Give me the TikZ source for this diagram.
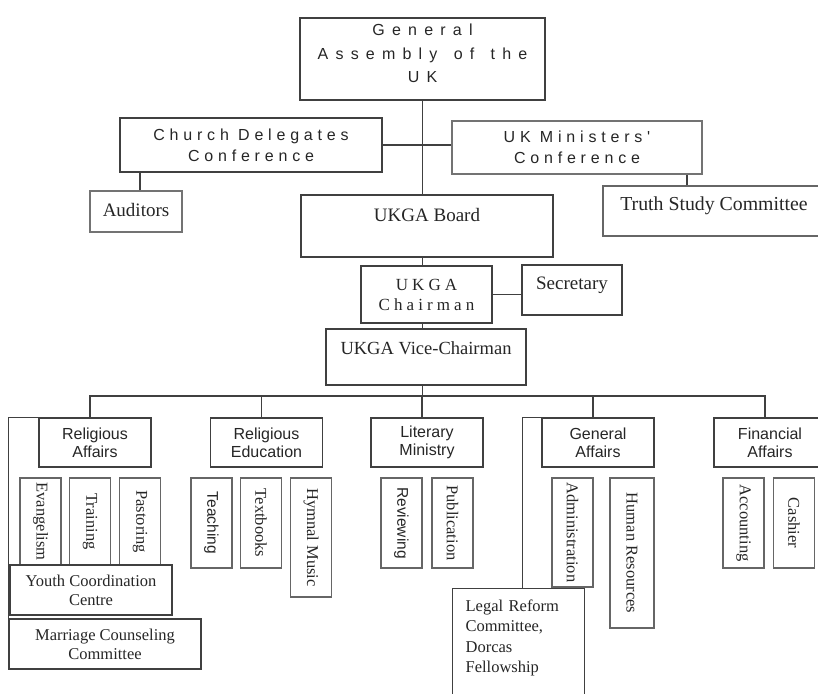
\documentclass[tikz,border=0pt]{standalone}
\usepackage{fontspec}
\setmainfont{Liberation Serif}
\setsansfont{Liberation Sans}
\newfontfamily\widesans[LetterSpace=45]{Liberation Sans}
\newfontfamily\spacedsans[LetterSpace=30]{Liberation Sans}
\newfontfamily\spacedserif[LetterSpace=24]{Liberation Serif}

\begin{document}
\begin{tikzpicture}[x=1pt,y=-1pt,
  box/.style={draw=black!75, line width=1.2pt, fill=white, inner sep=0pt, align=center, text=black!85},
  topbox/.style={box, font=\spacedsans\fontsize{16}{21}\selectfont},
  serbox/.style={box, font=\fontsize{19}{22}\selectfont, text height=13},
  headbox/.style={box, minimum width=112, minimum height=49, font=\sffamily\fontsize{16}{18}\selectfont},
  subbox/.style={box, draw=black!60, rotate=-90, minimum height=41, font=\fontsize{16.5}{19}\selectfont},
  lowbox/.style={box, minimum height=50, font=\fontsize{16.5}{19}\selectfont},
  link/.style={draw=black!75, line width=1.2pt}]
\useasboundingbox (0,0) rectangle (818,693);
\coordinate (bus) at (0,396);

\node[box, anchor=north, text width=245, text height=18, text depth=64, line width=1.6pt, font=\widesans\fontsize{16}{23.5}\selectfont] (ga) at (422.5,17) {General\\Assembly{} \hspace{11pt}of{} \hspace{11pt}the\\UK};
\node[topbox, minimum width=262, minimum height=54] (cdc) at (251,145) {Church Delegates\\Conference};
\node[topbox, draw=black!55, minimum width=250, minimum height=53] (ukm) at (577,147.5) {UK Ministers'\\Conference};
\node[serbox, draw=black!55, minimum width=92, minimum height=41, text depth=3] (aud) at (136,211.5) {Auditors};
\node[serbox, minimum width=252, minimum height=62, text depth=22] (board) at (427,226) {UKGA Board};
\node[serbox, draw=black!60, minimum width=222, minimum height=50, text depth=15, font=\fontsize{19.8}{22}\selectfont] (tsc) at (714,211) {Truth Study Committee};
\node[box, minimum width=131, minimum height=57, font=\spacedserif\fontsize{17}{20}\selectfont] (chair) at (426.5,294.5) {UKGA\\Chairman};
\node[serbox, minimum width=100, minimum height=50, text depth=14] (sec) at (572,290) {Secretary};
\node[serbox, minimum width=200, minimum height=56, text depth=18, font=\fontsize{18.5}{22}\selectfont] (vice) at (426,357) {UKGA Vice-Chairman};

\node[headbox] (ra) at (95,442.5) {Religious\\Affairs};
\node[headbox] (re) at (266.5,442.5) {Religious\\Education};
\node[headbox] (lm) at (427,442.5) {Literary\\Ministry};
\node[headbox] (gen) at (598,442.5) {General\\Affairs};
\node[headbox] (fa) at (770,442.5) {Financial\\Affairs};

\node[box, anchor=north west, text width=106, inner xsep=13, text height=23, text depth=120, align=left, font=\fontsize{16.5}{20.3}\selectfont] (legal) at (452,588) {Legal Reform\\Committee,\\Dorcas\\Fellowship};

\node[subbox, minimum width=87] (evan) at (40.5,521.5) {Evangelism};
\node[subbox, minimum width=87] (train) at (90,521.5) {Training};
\node[subbox, minimum width=87] (pastor) at (140,521.5) {Pastoring};
\node[subbox, minimum width=90, font=\sffamily\fontsize{15.5}{18}\selectfont] (teach) at (211.5,523) {Teaching};
\node[subbox, minimum width=90] (textb) at (261,523) {Textbooks};
\node[subbox, minimum width=119] (hymn) at (311,537.5) {Hymnal Music};
\node[subbox, minimum width=90, font=\sffamily\fontsize{15.5}{18}\selectfont] (review) at (401.5,523) {Reviewing};
\node[subbox, minimum width=90] (publ) at (452.5,523) {Publication};
\node[subbox, minimum width=109] (admin) at (572.5,532.5) {Administration};
\node[subbox, minimum width=150, minimum height=44] (hr) at (632,553) {Human Resources};
\node[subbox, minimum width=90] (acc) at (743.5,523) {Accounting};
\node[subbox, minimum width=90] (cash) at (794,523) {Cashier};

\node[lowbox, minimum width=162] (youth) at (91,590) {Youth Coordination\\Centre};
\node[lowbox, minimum width=192] (marr) at (105,644) {Marriage Counseling\\Committee};

\path[link] (ga.south) -- (ga.south |- board.north);
\path[link] (cdc.east) -- (cdc.east -| ukm.west);
\path[link] ([xshift=4]aud.north) -- ([xshift=4]aud.north |- cdc.south);
\path[link] ([xshift=-27]tsc.north) -- ([xshift=-27]tsc.north |- ukm.south);
\path[link] (ga.south |- board.south) -- (ga.south |- chair.north);
\path[link] (chair.east) -- (chair.east -| sec.west);
\path[link] (ga.south |- chair.south) -- (ga.south |- vice.north);
\path[link] (ga.south |- vice.south) -- (ga.south |- bus);
\foreach \n in {ra,re,lm,gen,fa}
  \path[link] (ga.south |- bus) -| ([xshift=-5]\n.north);
\path[link] (ra.north west) -| (marr.north west);
\path[link] (gen.north west) -| ([xshift=4]legal.north);
\end{tikzpicture}
\end{document}
